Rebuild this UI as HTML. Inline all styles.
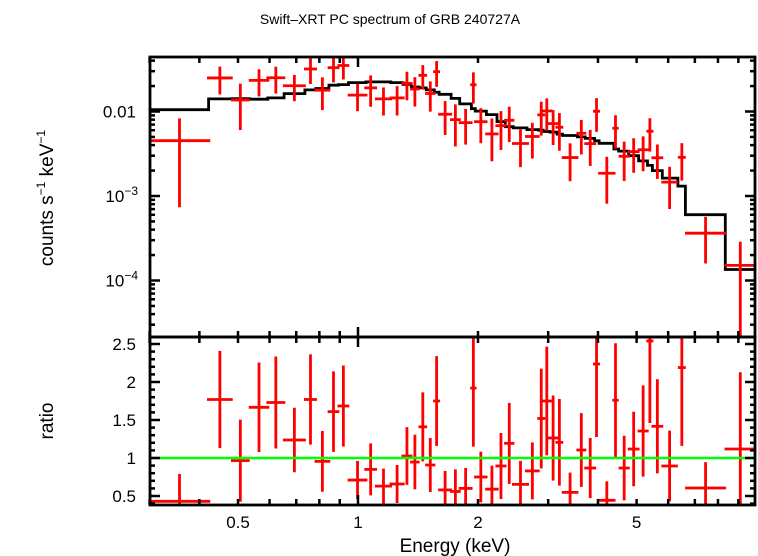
<!DOCTYPE html>
<html><head><meta charset="utf-8"><style>
html,body{margin:0;padding:0;background:#fff}
svg{display:block}
text{font-family:"Liberation Sans",sans-serif;fill:#000}
</style></head><body>
<svg id="chart" width="758" height="556" viewBox="0 0 758 556" xmlns="http://www.w3.org/2000/svg">
<text x="390" y="24" font-size="14" text-anchor="middle">Swift–XRT PC spectrum of GRB 240727A</text>
<text transform="translate(53,198) rotate(-90)" font-size="19" text-anchor="middle">counts s<tspan font-size="12" dy="-8">−1</tspan><tspan dy="8"> keV</tspan><tspan font-size="12" dy="-8">−1</tspan></text>
<text transform="translate(53,421) rotate(-90)" font-size="19" text-anchor="middle">ratio</text>
<text x="455" y="552" font-size="19" text-anchor="middle">Energy (keV)</text>
<g id="g-top"></g>
<g id="g-bot"></g>
<g id="g-axes"></g>
</svg>
<script>
const binLo = [0.2985,0.418,0.480,0.532,0.589,0.648,0.732,0.778,0.839,0.888,0.942,1.037,1.103,1.200,1.285,1.351,1.418,1.474,1.543,1.589,1.702,1.789,1.912,1.956,2.085,2.212,2.326,2.434,2.625,2.817,2.882,2.990,3.129,3.245,3.531,3.696,3.886,4.004,4.346,4.507,4.751,5.028,5.289,5.447,5.767,6.346,6.614,8.308];
const binHi = [0.426,0.485,0.535,0.599,0.657,0.740,0.789,0.852,0.898,0.951,1.056,1.116,1.217,1.309,1.370,1.428,1.491,1.564,1.607,1.722,1.810,1.938,1.983,2.113,2.253,2.358,2.468,2.685,2.856,2.949,3.073,3.187,3.274,3.572,3.738,3.958,4.049,4.426,4.507,4.805,5.086,5.361,5.510,5.833,6.346,6.643,8.384,9.97];
const modelVals = [0.0105,0.0141,0.0142,0.014,0.0145,0.0163,0.018,0.0187,0.0205,0.0208,0.022,0.0224,0.0224,0.022,0.021,0.0195,0.019,0.018,0.0169,0.016,0.0143,0.0123,0.0108,0.0101,0.0092,0.0076,0.0066,0.0064,0.0061,0.006,0.0058,0.0057,0.0054,0.0052,0.005,0.0048,0.0045,0.0042,0.0036,0.0034,0.003,0.0026,0.0023,0.002,0.00163,0.00131,0.0006,0.000135];
const ratioVals = [0.43,1.77,0.965,1.667,1.73,1.237,1.77,0.956,1.61,1.684,0.71,0.85,0.63,0.658,1.026,0.947,1.41,0.908,1.75,0.58,0.56,0.60,1.92,0.75,0.59,0.895,1.193,0.653,0.83,1.52,1.75,1.263,1.206,0.548,1.105,0.868,2.237,0.443,1.76,0.868,1.118,1.355,2.54,1.417,0.895,2.19,0.605,1.118];
const ratioErr = [0.36,0.64,0.54,0.59,0.605,0.425,0.594,0.40,0.53,0.533,0.252,0.342,0.23,0.25,0.38,0.36,0.454,0.355,0.59,0.25,0.29,0.27,0.77,0.333,0.31,0.434,0.533,0.31,0.375,0.656,0.715,0.56,0.57,0.26,0.485,0.395,0.96,0.25,0.75,0.425,0.49,0.60,1.08,0.62,0.465,1.03,0.34,1.01];
const xTickLabels = [0.5,1,2,5];
const ratioTickLabels = [0.5,1,1.5,2,2.5];

const NS="http://www.w3.org/2000/svg";
const L=150,R=755,T=57,M=337,B=505;
const X=e=>358+398.6*Math.log10(e);
const YT=v=>111.5-84.5*(Math.log10(v)+2);
const YB=r=>458-76*(r-1);
function mk(tag,attrs,parent){const el=document.createElementNS(NS,tag);for(const k in attrs)el.setAttribute(k,attrs[k]);parent.appendChild(el);return el;}
const gT=document.getElementById('g-top'),gB=document.getElementById('g-bot'),gA=document.getElementById('g-axes');
const clipT=v=>Math.max(T,Math.min(M,v)), clipB=v=>Math.max(M,Math.min(B,v));

const edges=[binLo[0]];
for(let i=0;i<binLo.length-1;i++) edges.push(Math.sqrt(binHi[i]*binLo[i+1]));
edges.push(binHi[binHi.length-1]);
let d='';
for(let i=0;i<modelVals.length;i++){const y=YT(modelVals[i]);d+=(i===0?'M':'L')+X(edges[i]).toFixed(1)+','+y.toFixed(1)+'L'+X(edges[i+1]).toFixed(1)+','+y.toFixed(1);}
const model=mk('path',{d:d,fill:'none',stroke:'#000','stroke-width':2.8},gT);



for(let i=0;i<binLo.length;i++){
  const xc=X(Math.sqrt(binLo[i]*binHi[i]));
  const dv=ratioVals[i]*modelVals[i], de=ratioErr[i]*modelVals[i];
  const yc=clipT(YT(dv)), y1=clipT(YT(dv+de)), y2=dv-de>0?clipT(YT(dv-de)):M;
  const g=mk('g',{stroke:'#f00','stroke-width':2.8},gT);
  
  
  mk('line',{x1:X(binLo[i]),x2:X(binHi[i]),y1:yc,y2:yc},g);
  mk('line',{x1:xc,x2:xc,y1:y1,y2:y2},g);
  const rb=clipB(YB(ratioVals[i])), r1=clipB(YB(ratioVals[i]+ratioErr[i])), r2=clipB(YB(ratioVals[i]-ratioErr[i]));
  const h=mk('g',{stroke:'#f00','stroke-width':2.8},gB);
  
  
  if(YB(ratioVals[i])<=B) mk('line',{x1:X(binLo[i]),x2:X(binHi[i]),y1:rb,y2:rb},h);
  mk('line',{x1:xc,x2:xc,y1:r1,y2:r2},h);
}
const unity=mk('line',{x1:L,x2:R,y1:YB(1),y2:YB(1),stroke:'#0f0','stroke-width':2.5},gB);



for(const [y0,y1,n] of [[T,M,'top-frame'],[M,B,'bottom-frame']]){
  const f=mk('rect',{x:L,y:y0,width:R-L,height:y1-y0,fill:'none',stroke:'#000','stroke-width':2.8},gA);
  
  
}
const minorE=[0.3,0.4,0.5,0.6,0.7,0.8,0.9,2,3,4,5,6,7,8,9];
for(const e of minorE.concat([1])){
  const x=X(e),len=e===1?10:6;
  for(const [y0,dir] of [[T,1],[M,-1],[M,1],[B,-1]]) mk('line',{x1:x,x2:x,y1:y0,y2:y0+dir*len,stroke:'#000','stroke-width':2.5},gA);
}
for(const v of xTickLabels){
  const t=mk('text',{x:X(v),y:528,'font-size':17,'text-anchor':'middle'},gA);t.textContent=v;
  
  
}
for(let p=-5;p<=-1;p++)for(let k=1;k<=9;k++){
  const v=k*Math.pow(10,p),y=YT(v);if(y<T||y>M)continue;const len=k===1?10:5;
  mk('line',{x1:L,x2:L+len,y1:y,y2:y,stroke:'#000','stroke-width':2.5},gA);
  mk('line',{x1:R,x2:R-len,y1:y,y2:y,stroke:'#000','stroke-width':2.5},gA);
}
const topLabs=[[0.01,'0.01',null],[0.001,'10','−3'],[0.0001,'10','−4']];
for(const [v,b,s] of topLabs){
  const t=mk('text',{x:136,y:YT(v)+6,'font-size':17,'text-anchor':'end'},gA);
  t.textContent=b;
  if(s){const ts=mk('tspan',{'font-size':12,dy:-7},t);ts.textContent=s;t.setAttribute('x',138);}
  
  
}
for(let r=0.4;r<=2.56;r+=0.1){
  const y=YB(r);const maj=Math.abs(r*2-Math.round(r*2))<1e-6;const len=maj?10:5;
  mk('line',{x1:L,x2:L+len,y1:y,y2:y,stroke:'#000','stroke-width':2.5},gA);
  mk('line',{x1:R,x2:R-len,y1:y,y2:y,stroke:'#000','stroke-width':2.5},gA);
}
for(const v of ratioTickLabels){
  const t=mk('text',{x:136,y:Math.max(YB(v)+6,345),'font-size':17,'text-anchor':'end'},gA);t.textContent=v;
  
  
}
</script>
</body></html>
